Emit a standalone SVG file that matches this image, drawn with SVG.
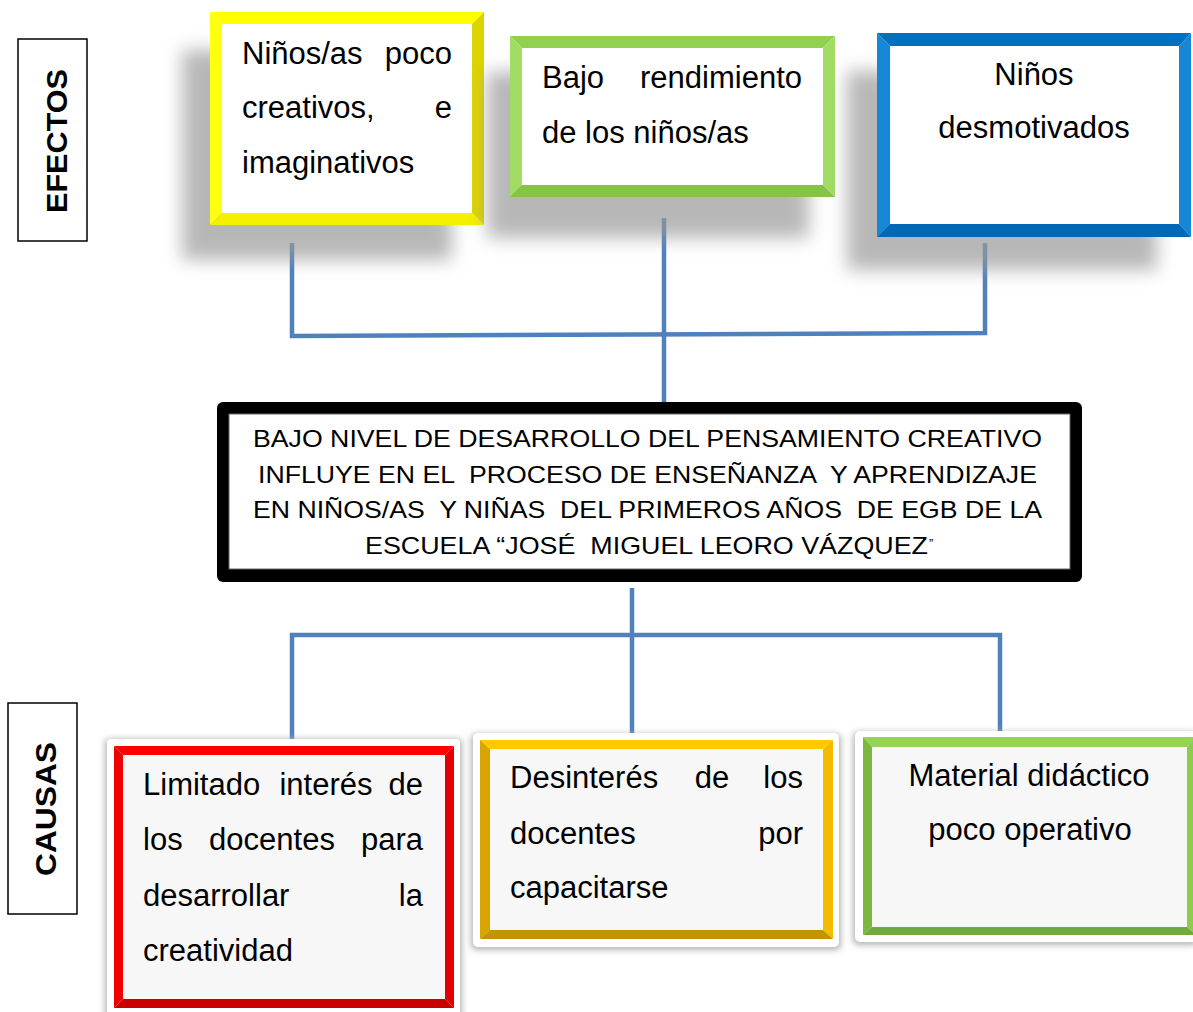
<svg xmlns="http://www.w3.org/2000/svg" width="1193" height="1012" viewBox="0 0 1193 1012">
<defs>
<filter id="sh" x="-30%" y="-30%" width="160%" height="160%"><feGaussianBlur stdDeviation="9"/></filter>
<filter id="cs" x="-10%" y="-10%" width="120%" height="120%"><feGaussianBlur stdDeviation="3"/></filter>
</defs>
<style>
.t{font-family:"Liberation Sans",Arial,sans-serif;font-size:31px;fill:#000}
.c{font-family:"Liberation Sans",Arial,sans-serif;font-size:24px;fill:#000;white-space:pre}
.lab{font-family:"Liberation Sans",Arial,sans-serif;font-size:30px;font-weight:bold;fill:#000}
.m{text-anchor:middle}
.e{text-anchor:end}
.shadow{fill:#9a9a9a;opacity:0.7;filter:url(#sh)}
.card{fill:#fff}
.cardsh{fill:#b5b5b5;filter:url(#cs)}
.conn{stroke:#4f81bd;stroke-width:4.5;fill:none}
.lbox{fill:#fff;stroke:#000;stroke-width:1.5}
</style>
<rect width="1193" height="1012" fill="#fff"/>

<g id="label-efectos">
<rect class="lbox" x="18" y="39" width="69" height="202"/>
<text class="lab m" transform="translate(67,141) rotate(-90)" textLength="144" lengthAdjust="spacingAndGlyphs">EFECTOS</text>
</g>
<g id="label-causas">
<rect class="lbox" x="8" y="703" width="69" height="211"/>
<text class="lab m" transform="translate(56,809) rotate(-90)" textLength="134" lengthAdjust="spacingAndGlyphs">CAUSAS</text>
</g>

<g id="connectors">
<polyline class="conn" points="292,243 292,336 985,333 985,243"/>
<line class="conn" x1="664" y1="218" x2="664" y2="408"/>
<line class="conn" x1="632" y1="588" x2="632" y2="742"/>
<polyline class="conn" points="292,742 292,635 1000,635 1000,742"/>
</g>

<g id="efecto-1">
<rect class="shadow" x="182" y="50" width="270" height="210"/>
<polygon fill="#ffff00" points="210,12 484,12 472,24 222,24"/>
<polygon fill="#ffff10" points="210,12 222,24 222,213 210,225"/>
<polygon fill="#dcd400" points="484,12 484,225 472,213 472,24"/>
<polygon fill="#f4f000" points="210,225 222,213 472,213 484,225"/>
<rect x="222" y="24" width="250" height="189" fill="#fff"/>
<text class="t" x="242" y="64">Niños/as</text><text class="t e" x="452" y="64">poco</text>
<text class="t" x="242" y="118">creativos,</text><text class="t e" x="452" y="118">e</text>
<text class="t" x="242" y="173">imaginativos</text>
</g>

<g id="efecto-2">
<rect class="shadow" x="487" y="72" width="322" height="166"/>
<polygon fill="#92d050" points="510,36 835,36 823,48 522,48"/>
<polygon fill="#a2dc62" points="510,36 522,48 522,185 510,197"/>
<polygon fill="#a2dc62" points="835,36 835,197 823,185 823,48"/>
<polygon fill="#86c446" points="510,197 522,185 823,185 835,197"/>
<rect x="522" y="48" width="301" height="137" fill="#fff"/>
<text class="t" x="542" y="88">Bajo</text><text class="t e" x="802" y="88">rendimiento</text>
<text class="t" x="542" y="143">de los niños/as</text>
</g>

<g id="efecto-3">
<rect class="shadow" x="847" y="71" width="310" height="199"/>
<polygon fill="#0070c0" points="877,33 1191,33 1179,46 890,46"/>
<polygon fill="#1686d6" points="877,33 890,46 890,224 877,237"/>
<polygon fill="#1686d6" points="1191,33 1191,237 1179,224 1179,46"/>
<polygon fill="#0068b4" points="877,237 890,224 1179,224 1191,237"/>
<rect x="890" y="46" width="289" height="178" fill="#fff"/>
<text class="t m" x="1034" y="85">Niños</text>
<text class="t m" x="1034" y="138">desmotivados</text>
</g>

<g id="problema">
<rect x="217" y="402" width="865" height="180" rx="6" fill="#000"/>
<rect x="229" y="414" width="841" height="155" fill="#fff" stroke="#666" stroke-width="1"/>
<text class="c" x="253" y="447" textLength="789" lengthAdjust="spacingAndGlyphs">BAJO NIVEL DE DESARROLLO DEL PENSAMIENTO CREATIVO</text>
<text class="c" x="258" y="483" textLength="779" lengthAdjust="spacingAndGlyphs">INFLUYE EN EL  PROCESO DE ENSEÑANZA  Y APRENDIZAJE</text>
<text class="c" x="253" y="518" textLength="789" lengthAdjust="spacingAndGlyphs">EN NIÑOS/AS  Y NIÑAS  DEL PRIMEROS AÑOS  DE EGB DE LA</text>
<text class="c" x="365" y="554" textLength="563" lengthAdjust="spacingAndGlyphs">ESCUELA “JOSÉ  MIGUEL LEORO VÁZQUEZ</text>
<text class="c" x="929" y="548" style="font-size:13px">”</text>
</g>

<g id="causa-1">
<rect class="cardsh" x="105" y="739" width="357" height="280" rx="4"/>
<rect class="card" x="107" y="739" width="353" height="280" rx="4"/>
<polygon fill="#ff0000" points="114,746 454,746 445,755 123,755"/>
<polygon fill="#f20000" points="114,746 123,755 123,999 114,1008"/>
<polygon fill="#e40000" points="454,746 454,1008 445,999 445,755"/>
<polygon fill="#c80000" points="114,1008 123,999 445,999 454,1008"/>
<rect x="123" y="755" width="322" height="244" fill="#f7f7f7"/>
<text class="t" x="143" y="795">Limitado</text><text class="t m" x="326" y="795">interés</text><text class="t e" x="423" y="795">de</text>
<text class="t" x="143" y="850">los</text><text class="t m" x="272" y="850">docentes</text><text class="t e" x="423" y="850">para</text>
<text class="t" x="143" y="906">desarrollar</text><text class="t e" x="423" y="906">la</text>
<text class="t" x="143" y="961">creatividad</text>
</g>

<g id="causa-2">
<rect class="cardsh" x="471" y="734" width="370" height="216" rx="5"/>
<rect class="card" x="473" y="733" width="366" height="214" rx="5"/>
<polygon fill="#ffc800" points="480,740 833,740 823,749 490,749"/>
<polygon fill="#d8a400" points="480,740 490,749 490,930 480,939"/>
<polygon fill="#f4bc00" points="833,740 833,939 823,930 823,749"/>
<polygon fill="#c49400" points="480,939 490,930 823,930 833,939"/>
<rect x="490" y="749" width="333" height="181" fill="#f7f7f7"/>
<text class="t" x="510" y="788">Desinterés</text><text class="t m" x="712" y="788">de</text><text class="t e" x="803" y="788">los</text>
<text class="t" x="510" y="844">docentes</text><text class="t e" x="803" y="844">por</text>
<text class="t" x="510" y="898">capacitarse</text>
</g>

<g id="causa-3">
<rect class="cardsh" x="853" y="732" width="345" height="213" rx="5"/>
<rect class="card" x="855" y="731" width="343" height="211" rx="5"/>
<polygon fill="#96d455" points="863,737 1196,737 1187,747 872,747"/>
<polygon fill="#7ab83e" points="863,737 872,747 872,927 863,935"/>
<polygon fill="#8ccc4c" points="1196,737 1196,935 1187,927 1187,747"/>
<polygon fill="#70aa3a" points="863,935 872,927 1187,927 1196,935"/>
<rect x="872" y="747" width="315" height="180" fill="#f7f7f7"/>
<text class="t m" x="1029" y="786">Material didáctico</text>
<text class="t m" x="1030" y="840">poco operativo</text>
</g>
</svg>
